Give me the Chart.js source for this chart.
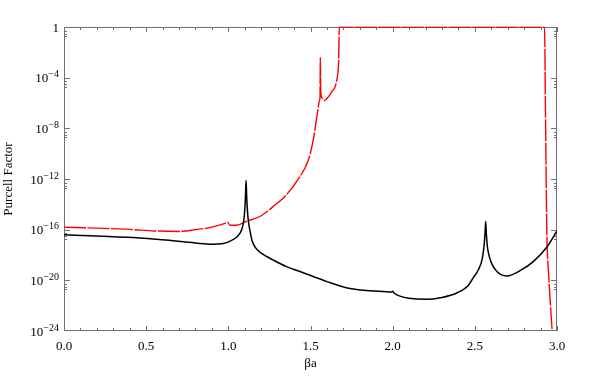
<!DOCTYPE html>
<html>
<head>
<meta charset="utf-8">
<script src="https://cdn.jsdelivr.net/npm/chart.js@4.4.1/dist/chart.umd.min.js"></script>
<style>
  html, body { margin: 0; padding: 0; background: #fff; }
  canvas { display: block; }
</style>
</head>
<body>
<canvas id="purcellChart" width="589" height="379"></canvas>
<script>
// values, y stored as log10 of the Purcell factor
const redX = [0, 0.2, 0.4, 0.55, 0.7, 0.8, 0.9, 0.95, 0.98, 0.995, 1.01, 1.05, 1.11, 1.2, 1.27, 1.35, 1.42, 1.487, 1.517, 1.542, 1.555, 1.558, 1.56, 1.562, 1.57, 1.585, 1.61, 1.63, 1.65, 1.665, 1.67, 1.673, 1.675, 2.0, 2.5, 2.924, 2.93, 2.938, 2.95, 2.97, 2.985];
const redLog = [-15.8, -15.88, -15.98, -16.1, -16.14, -16.0, -15.8, -15.62, -15.5, -15.42, -15.65, -15.65, -15.35, -14.9, -14.2, -13.3, -12.1, -10.5, -8.9, -6.8, -5.8, -5.5, -2.4, -5.0, -5.6, -5.8, -5.5, -5.1, -4.7, -3.8, -3.1, -1.5, 0, 0, 0, 0, -6.9, -16, -19.7, -23.9, -26.8];

const blackX = [0, 0.2, 0.46, 0.6, 0.8, 0.9, 0.97, 1.02, 1.05, 1.07, 1.088, 1.098, 1.104, 1.108, 1.112, 1.118, 1.125, 1.132, 1.145, 1.17, 1.2, 1.274, 1.35, 1.436, 1.6, 1.74, 1.9, 1.994, 2.0, 2.01, 2.045, 2.1, 2.2, 2.3, 2.39, 2.46, 2.49, 2.52, 2.545, 2.556, 2.562, 2.566, 2.57, 2.576, 2.583, 2.6, 2.634, 2.694, 2.78, 2.857, 2.94, 3.0];
const blackLog = [-16.4, -16.5, -16.65, -16.8, -17.05, -17.15, -17.1, -16.85, -16.6, -16.3, -15.7, -14.8, -13.5, -12.1, -13.5, -14.8, -15.6, -16.1, -16.9, -17.5, -17.85, -18.4, -18.9, -19.3, -20.1, -20.65, -20.85, -20.92, -20.86, -21.02, -21.25, -21.42, -21.5, -21.35, -21.0, -20.4, -19.8, -19.2, -18.3, -17.3, -16.3, -15.35, -16.3, -17.3, -17.85, -18.6, -19.3, -19.65, -19.2, -18.5, -17.35, -16.1];

const xMajorTicks = [0, 0.5, 1, 1.5, 2, 2.5, 3];
const xMinorTicks = [0.1, 0.2, 0.3, 0.4, 0.6, 0.7, 0.8, 0.9, 1.1, 1.2, 1.3, 1.4, 1.6, 1.7, 1.8, 1.9, 2.1, 2.2, 2.3, 2.4, 2.6, 2.7, 2.8, 2.9];
const yMajorExponents = [-24, -20, -16, -12, -8, -4, 0];
const yMinorFactors = [0.5, 0.3, 0.2];

const serif = "'Liberation Serif', 'DejaVu Serif', serif";

function toPoints(xs, logs) {
  return xs.map((x, i) => ({ x: x, y: Math.pow(10, logs[i]) }));
}

// frame round the plot with inward ticks on all four sides
const frameTicks = {
  id: 'frameTicks',
  beforeDatasetsDraw(chart) {
    const { ctx, chartArea: a, scales: { x, y } } = chart;
    ctx.save();
    ctx.strokeStyle = '#707070';
    ctx.lineWidth = 1;
    ctx.strokeRect(Math.round(a.left) + 0.5, Math.round(a.top) + 0.5, Math.round(a.width) - 1, Math.round(a.height) - 1);
    ctx.beginPath();
    const xTick = (v, len) => {
      const px = Math.round(x.getPixelForValue(v)) + 0.5;
      ctx.moveTo(px, a.bottom); ctx.lineTo(px, a.bottom - len);
      ctx.moveTo(px, a.top); ctx.lineTo(px, a.top + len);
    };
    const yTick = (v, len) => {
      const py = Math.round(y.getPixelForValue(v)) + 0.5;
      if (py < a.top || py > a.bottom) return;
      ctx.moveTo(a.left, py); ctx.lineTo(a.left + len, py);
      ctx.moveTo(a.right, py); ctx.lineTo(a.right - len, py);
    };
    xMajorTicks.forEach(v => xTick(v, 5));
    xMinorTicks.forEach(v => xTick(v, 3));
    yMajorExponents.forEach(e => {
      yTick(Math.pow(10, e), 6);
      yMinorFactors.forEach(f => yTick(f * Math.pow(10, e), 3));
    });
    ctx.stroke();
    ctx.restore();
  },
  // y tick labels written as 10 with a raised exponent
  afterDraw(chart) {
    const { ctx, chartArea: a, scales: { y } } = chart;
    ctx.save();
    ctx.fillStyle = '#000';
    ctx.textAlign = 'right';
    ctx.textBaseline = 'alphabetic';
    const right = a.left - 5;
    yMajorExponents.forEach(e => {
      const py = y.getPixelForValue(Math.pow(10, e));
      if (e === 0) {
        ctx.font = '13px ' + serif;
        ctx.fillText('1', right, py + 4.5);
        return;
      }
      const exp = '\u2212' + String(-e);
      ctx.font = '10px ' + serif;
      const expW = ctx.measureText(exp).width;
      ctx.fillText(exp, right, py - 0.5);
      ctx.font = '13px ' + serif;
      ctx.fillText('10', right - expW, py + 4.5);
    });
    ctx.restore();
  }
};

new Chart(document.getElementById('purcellChart'), {
  type: 'line',
  data: {
    datasets: [
      {
        label: 'black',
        data: toPoints(blackX, blackLog),
        borderColor: '#000000',
        borderWidth: 1.5,
        pointRadius: 0,
        cubicInterpolationMode: 'monotone',
        borderJoinStyle: 'round',
      },
      {
        label: 'red',
        data: toPoints(redX, redLog),
        borderColor: '#ff0000',
        borderWidth: 1.4,
        borderDash: [22, 1.5],
        pointRadius: 0,
        cubicInterpolationMode: 'monotone',
        borderJoinStyle: 'round',
        clip: { left: 0, top: 0.6, right: 0, bottom: 0 },
      },
    ],
  },
  options: {
    responsive: false,
    animation: false,
    devicePixelRatio: 1,
    layout: {
      padding: { left: 0, right: 32, top: 27, bottom: 0 },
    },
    scales: {
      x: {
        type: 'linear',
        min: 0,
        max: 3,
        afterBuildTicks: (scale) => { scale.ticks = xMajorTicks.map(v => ({ value: v })); },
        afterFit: (scale) => { scale.height = 48; },
        grid: { display: false, drawTicks: false },
        border: { display: false },
        ticks: {
          padding: 8,
          color: '#000',
          font: { family: serif, size: 13 },
          callback: (v) => Number(v).toFixed(1),
        },
        title: {
          display: true,
          text: '\u03B2a',
          color: '#000',
          font: { family: serif, size: 13 },
          padding: { top: 0, bottom: 8 },
        },
      },
      y: {
        type: 'logarithmic',
        min: 1e-24,
        max: 1,
        afterBuildTicks: (scale) => { scale.ticks = yMajorExponents.map(e => ({ value: Math.pow(10, e) })); },
        afterFit: (scale) => { scale.width = 64; },
        grid: { display: false, drawTicks: false },
        border: { display: false },
        ticks: { display: false },
        title: {
          display: true,
          text: 'Purcell Factor',
          color: '#000',
          font: { family: serif, size: 13 },
          padding: { top: 1, bottom: 0 },
        },
      },
    },
    plugins: {
      legend: { display: false },
      tooltip: { enabled: false },
    },
  },
  plugins: [frameTicks],
});
</script>
</body>
</html>
